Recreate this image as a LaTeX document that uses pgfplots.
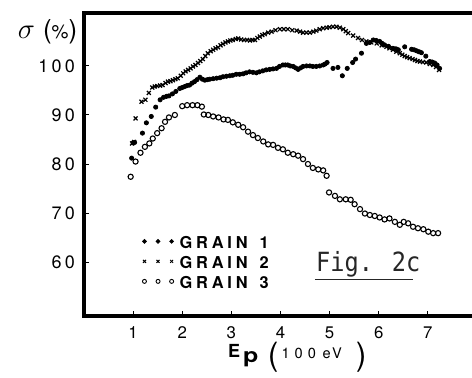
\documentclass[border=0pt]{standalone}
\usepackage{fontspec}
\setmainfont{TeX Gyre Heros}
\newfontfamily\tickfont[LetterSpace=18]{TeX Gyre Heros}
\newfontfamily\figfont{DejaVu Sans Mono}
\newcommand{\grain}[1]{G\hspace{1.9pt}R\hspace{1.9pt}A\hspace{1.9pt}I\hspace{1.9pt}N\hspace{6pt}#1}
\usepackage{pgfplots}
\pgfplotsset{compat=1.18}
\begin{document}
\begin{tikzpicture}
\useasboundingbox (0,0) rectangle (236pt,188.5pt);
\begin{axis}[
  scale only axis,
  width=194pt, height=151.5pt,
  at={(42pt,30.5pt)}, anchor=south west,
  xmin=0, xmax=7.9, ymin=49, ymax=110.8,
  axis line style={draw=none},
  xtick={1,2,3,4,5,6,7},
  ytick={60,70,80,90,100},
  xtick pos=bottom, ytick pos=left,
  tick align=inside,
  major tick length=2.3pt,
  tick style={black, line width=0.5pt},
  /pgf/number format/assume math mode=true,
  yticklabel style={font=\tickfont\fontsize{9}{9}\selectfont, xshift=-1pt},
  xticklabel style={font=\tickfont\fontsize{8.4}{9}\selectfont, yshift=-2pt},
  clip=false,
  legend style={draw=none, fill=none, at={(axis cs:1.19,65.2)}, anchor=north west,
    font=\bfseries\fontsize{8.2}{8.2}\selectfont, row sep=4pt,
    inner sep=0pt, outer sep=0pt,
    nodes={inner sep=0pt, text height=6pt, text depth=0pt},
    /tikz/every odd column/.append style={column sep=3pt}},
  legend cell align=left,
]
\draw[line width=1.7pt] (rel axis cs:1,1) -- (rel axis cs:0,1) -- (rel axis cs:0,0) -- (rel axis cs:1,0);
\addplot[only marks, mark=*, mark size=1.05pt, black,
  legend image code/.code={\draw[black, only marks, mark=*, mark size=0.95pt] plot coordinates {(0pt,0.6pt) (6.8pt,0.6pt) (13.6pt,0.6pt)};}] coordinates {
(0.97,81.2) (1.00,84.3) (1.03,84.4) (1.19,86.3) (1.27,88.4) (1.37,89.7) (1.46,91.6) (1.55,93.1)
(1.62,93.6) (1.68,93.8) (1.73,93.9) (1.80,94.3) (1.87,94.8) (1.95,95.4) (2.00,95.6) (2.05,95.8)
(2.10,96.0) (2.15,96.1) (2.20,96.5) (2.25,96.8) (2.30,97.2) (2.36,97.7) (2.41,97.3) (2.46,97.1)
(2.51,97.2) (2.56,97.3) (2.63,97.4) (2.70,97.5) (2.77,97.6) (2.83,97.8) (2.90,97.9) (2.97,98.0)
(3.03,98.1) (3.10,98.3) (3.17,98.3) (3.24,98.4) (3.30,98.6) (3.37,98.8) (3.44,98.7) (3.51,98.6)
(3.57,98.8) (3.64,99.0) (3.71,99.2) (3.78,99.3) (3.85,99.4) (3.92,99.5) (3.98,99.9) (4.05,100.2)
(4.10,100.2) (4.15,100.2) (4.20,100.0) (4.26,99.9) (4.31,99.6) (4.36,99.3) (4.41,99.6) (4.46,99.9)
(4.53,100.0) (4.60,100.0) (4.66,99.9) (4.73,99.9) (4.80,100.0) (4.87,100.2) (4.91,100.4) (4.95,100.7)
(5.07,99.5) (5.17,99.7) (5.26,98.0) (5.36,99.5) (5.47,100.7) (5.53,101.4) (5.65,102.6) (5.75,104.6)
(5.82,104.8) (5.89,105.3) (5.95,105.2) (6.02,105.0) (6.07,104.6) (6.12,104.3) (6.20,104.0) (6.29,103.6)
(6.35,103.5) (6.40,103.3) (6.53,103.9) (6.67,103.4) (6.72,103.3) (6.77,103.1) (6.82,102.9) (6.87,102.7)
(6.96,102.0) (7.04,100.9) (7.09,100.8) (7.14,100.6) (7.19,100.2) (7.24,99.5)
};
\addlegendentry{\grain{1}}
\addplot[only marks, mark=x, mark size=1.4pt, black, line width=0.6pt,
  legend image code/.code={\draw[black, line width=0.5pt, only marks, mark=x, mark size=1.05pt] plot coordinates {(0pt,0.6pt) (6.8pt,0.6pt) (13.6pt,0.6pt)};}] coordinates {
(0.98,84.2) (1.02,84.5) (1.05,89.3) (1.17,92.7) (1.25,93.1) (1.32,94.5) (1.39,95.6) (1.44,95.8)
(1.49,95.9) (1.55,96.0) (1.60,96.1) (1.66,96.5) (1.71,96.8) (1.76,96.9) (1.81,97.1) (1.86,97.3)
(1.91,97.5) (1.97,98.0) (2.02,98.5) (2.07,98.9) (2.12,99.2) (2.17,99.5) (2.22,99.9) (2.27,100.2)
(2.32,100.6) (2.37,101.0) (2.42,101.4) (2.47,102.0) (2.52,102.6) (2.58,103.0) (2.63,103.3) (2.68,103.6)
(2.73,103.8) (2.78,104.2) (2.83,104.5) (2.88,104.8) (2.93,105.0) (2.98,105.2) (3.03,105.3) (3.09,105.5)
(3.14,105.6) (3.20,105.4) (3.26,105.3) (3.32,105.3) (3.38,105.2) (3.43,105.3) (3.48,105.3) (3.53,105.7)
(3.58,106.0) (3.63,106.3) (3.68,106.5) (3.75,106.8) (3.82,107.0) (3.90,107.3) (3.99,107.5) (4.07,107.5)
(4.15,107.5) (4.24,107.3) (4.33,107.2) (4.40,107.0) (4.46,106.8) (4.53,106.8) (4.60,106.8) (4.67,107.0)
(4.73,107.2) (4.80,107.5) (4.87,107.7) (4.94,107.8) (5.00,107.9) (5.07,108.0) (5.14,108.0) (5.21,107.8)
(5.28,107.5) (5.33,107.1) (5.38,106.7) (5.48,106.2) (5.58,105.7) (5.66,105.3) (5.75,105.0) (5.85,104.8)
(5.96,104.6) (6.06,104.2) (6.16,103.9) (6.22,103.6) (6.29,103.3) (6.36,102.9) (6.43,102.6) (6.48,102.3)
(6.53,102.0) (6.58,101.8) (6.63,101.6) (6.69,101.4) (6.74,101.2) (6.79,101.0) (6.84,100.9) (6.90,100.8)
(6.97,100.7) (7.04,100.4) (7.11,100.2) (7.17,99.8) (7.23,99.2)
};
\addlegendentry{\grain{2}}
\addplot[only marks, mark=o, mark size=1.3pt, black, line width=0.55pt,
  legend image code/.code={\draw[black, line width=0.45pt, only marks, mark=o, mark size=1.0pt] plot coordinates {(0pt,0.6pt) (6.8pt,0.6pt) (13.6pt,0.6pt)};}] coordinates {
(0.95,77.4) (1.05,80.5) (1.15,82.3) (1.24,83.5) (1.33,84.2) (1.40,85.2) (1.49,86.3) (1.58,87.3)
(1.65,88.6) (1.73,89.5) (1.85,90.0) (2.00,91.8) (2.10,92.0) (2.21,92.0) (2.31,92.0) (2.40,91.7)
(2.44,90.1) (2.53,90.0) (2.63,89.7) (2.74,89.5) (2.84,89.1) (2.93,89.0) (3.03,88.5) (3.14,88.0)
(3.24,87.5) (3.34,86.6) (3.44,85.9) (3.54,85.3) (3.65,84.6) (3.75,84.0) (3.85,83.9) (3.95,83.3)
(4.05,83.0) (4.15,82.3) (4.26,82.0) (4.36,81.7) (4.46,81.0) (4.56,80.0) (4.66,79.2) (4.77,78.9)
(4.87,78.7) (4.94,77.6) (4.99,74.2) (5.11,73.5) (5.21,72.8) (5.33,72.8) (5.43,72.7) (5.51,71.8)
(5.62,70.8) (5.72,69.9) (5.82,69.6) (5.92,69.4) (6.02,69.1) (6.12,68.7) (6.22,68.9) (6.33,68.2)
(6.43,67.6) (6.51,68.2) (6.60,67.9) (6.70,67.2) (6.80,66.9) (6.91,66.7) (7.01,66.2) (7.11,65.9)
(7.21,65.9)
};
\addlegendentry{\grain{3}}
% y label
\node[anchor=base east, inner sep=0pt] at (axis cs:-0.13,105.6)
  {{\fontsize{15}{15}\selectfont$\sigma$}\hspace{4pt}{\fontsize{13}{13}\selectfont(}{\fontsize{9.5}{10}\selectfont\%}{\fontsize{13}{13}\selectfont)}};
% x label, piece by piece
\node[anchor=base west, inner sep=0pt, font=\bfseries\fontsize{9}{10}\selectfont] at (axis cs:2.924,40.6) {E};
\node[anchor=base west, inner sep=0pt] at (axis cs:3.232,39.5) {\scalebox{1.25}[1]{\bfseries\fontsize{10}{12}\selectfont p}};
\node[anchor=center, inner sep=0pt, font=\fontsize{16}{16}\selectfont] at (axis cs:3.853,40.6) {(};
\node[anchor=base, inner sep=0pt, font=\fontsize{7.3}{8}\selectfont] at (axis cs:4.372,40.4) {1\hspace{2.5pt}0\hspace{2.5pt}0};
\node[anchor=base, inner sep=0pt, font=\fontsize{7.3}{8}\selectfont] at (axis cs:5.055,40.4) {e\hspace{0.8pt}V};
\node[anchor=center, inner sep=0pt, font=\fontsize{16}{16}\selectfont] at (axis cs:5.646,40.6) {)};
% figure tag
\node[anchor=base west, inner sep=0pt, text=black!85] at (axis cs:4.72,58.0)
  {\scalebox{1}[1.12]{\figfont\fontsize{11.8}{12}\selectfont Fig. 2c}};
\draw[line width=0.6pt, black!85] (axis cs:4.70,56.5) -- (axis cs:6.70,56.5);
\end{axis}
\end{tikzpicture}
\end{document}
